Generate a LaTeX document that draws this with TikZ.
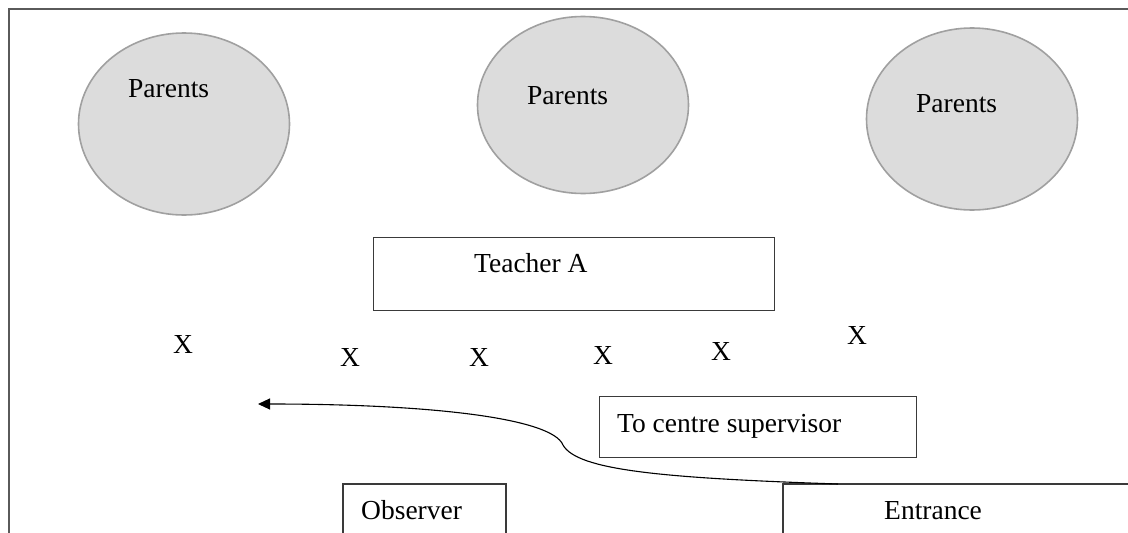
\documentclass[tikz,border=0pt]{standalone}
\usepackage{fontspec}
\setmainfont{Liberation Serif}
\usetikzlibrary{shapes.geometric,arrows.meta}

\definecolor{framegray}{HTML}{5A5A5A}
\definecolor{boxline}{HTML}{3A3A3A}
\definecolor{crowdfill}{HTML}{DCDCDC}
\definecolor{crowdline}{HTML}{A0A0A0}

\tikzset{
  plan/.style={x=1pt,y=-1pt},
  crowd/.style={ellipse,draw=crowdline,fill=crowdfill,line width=1.6pt,
    inner sep=0pt,minimum width=211pt,minimum height=182pt},
  deskbox/.style={draw=boxline,line width=1.1pt,inner sep=0pt,anchor=north west},
  lbl/.style={anchor=base west,inner sep=0pt,font=\fontsize{27.5}{33}\selectfont},
  seat/.style={anchor=base,inner sep=0pt,font=\fontsize{27.5}{33}\selectfont},
  route/.style={draw=black,line width=1.1pt,-{Triangle[length=12pt,width=11pt]}}
}

\begin{document}
\begin{tikzpicture}[plan]
\useasboundingbox (0,0) rectangle (1128,533);
\fill[white] (0,0) rectangle (1128,533);

% room outline (left and top walls)
\draw[framegray,line width=2.2pt] (9,534) -- (9,9) -- (1129,9);

% parent groups
\node[crowd] (p1) at (184,124) {};
\node[crowd,minimum height=177pt] (p2) at (583,105) {};
\node[crowd] (p3) at (972,119) {};
\node[lbl] (p1t) at (128,97) {Parents};
\node[lbl] (p2t) at (527,104) {Parents};
\node[lbl] (p3t) at (916,112) {Parents};

% teacher desk
\node[deskbox,minimum width=401pt,minimum height=73pt] (teach) at (373,237) {};
\node[lbl] (teacht) at (474,272) {Teacher A};

% candidates' seats
\node[seat] (x1) at (183,353) {X};
\node[seat] (x2) at (350,366) {X};
\node[seat] (x3) at (479,366) {X};
\node[seat] (x4) at (603,364) {X};
\node[seat] (x5) at (721,360) {X};
\node[seat] (x6) at (857,344) {X};

% supervisor label box
\node[deskbox,minimum width=317pt,minimum height=61pt] (sup) at (599,396) {};
\node[lbl] (supt) at (617,432) {To centre supervisor};

% observer and entrance (open towards the bottom edge)
\draw[boxline,line width=1.1pt] (343,534) -- (343,484) -- (506,484) -- (506,534);
\node[lbl] (obs) at (361,519) {Observer};
\draw[boxline,line width=1.1pt] (783,534) -- (783,484) -- (1129,484);
\node[lbl] (ent) at (884,519) {Entrance};

% route from the entrance to the supervisor
\coordinate (door) at (838,484);
\coordinate (kink) at (563,445);
\coordinate (tip) at (258,404);
\draw[route] (door) .. controls (660,478) and (577,470) .. (kink)
  .. controls (552,418) and (430,404) .. (tip);
\end{tikzpicture}
\end{document}
